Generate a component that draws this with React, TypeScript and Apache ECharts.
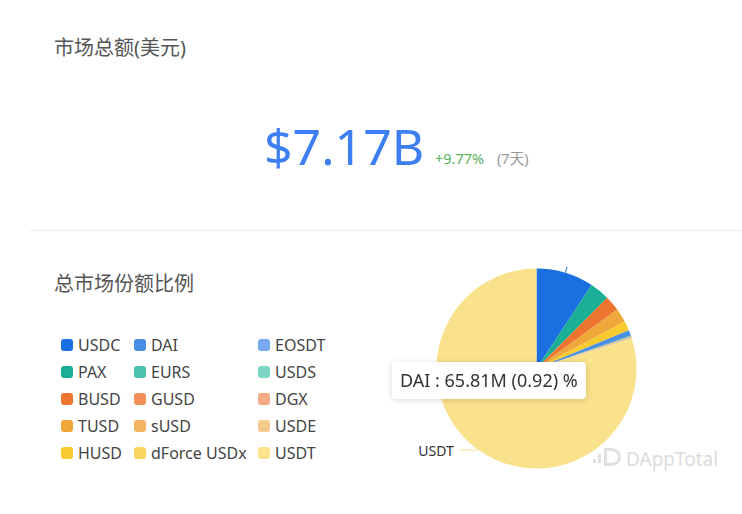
import React, { useEffect, useRef } from "react";
import * as echarts from "echarts";

const categories = ["USDC", "PAX", "BUSD", "TUSD", "HUSD", "DAI", "EURS", "GUSD", "sUSD", "dForce USDx", "EOSDT", "USDS", "DGX", "USDE", "USDT"];
const valuesM = [667, 228, 178, 160, 111, 65.81, 9, 6, 7, 2, 4, 1, 1.5, 0.5, 5729.2];
const colors = ["#1a70e0", "#1aae96", "#ee7530", "#f0a73a", "#f8ca30", "#4a8fe6", "#4cc2ad", "#f3905a", "#f3b562", "#f9d55d", "#79aaef", "#7dd3c4", "#f5ab85", "#f5c98c", "#fae18c"];
const legendColumns = [
  ["USDC", "PAX", "BUSD", "TUSD", "HUSD"],
  ["DAI", "EURS", "GUSD", "sUSD", "dForce USDx"],
  ["EOSDT", "USDS", "DGX", "USDE", "USDT"],
];
const totalText = "$7.17B";
const changeText = "+9.77%";
const periodText = "(7天)";
const title1 = "市场总额(美元)";
const title2 = "总市场份额比例";
const tipIndex = 5;

const FONT = "'Noto Sans', 'Noto Sans CJK SC', sans-serif";
const legendLefts = [56, 129, 253];

echarts.graphic.registerShape(
  "dlogo",
  (echarts.graphic as any).extendPath("M0 0 H8 A9 9 0 0 1 8 18 H0 Z M3 3 V15 H8 A6 6 0 0 0 8 3 Z", {})
);

export default function App() {
  const topRef = useRef<HTMLDivElement>(null);
  const pieRef = useRef<HTMLDivElement>(null);

  useEffect(() => {
    const top = echarts.init(topRef.current!, null, { renderer: "svg" });
    top.setOption({
      animation: false,
      graphic: [
        { type: "text", x: 54, y: 47, style: { text: title1, fill: "#555", fontSize: 20, fontFamily: FONT, textVerticalAlign: "middle" } },
        { type: "text", x: 264, y: 146, style: { text: totalText, fill: "#3d7ef1", fontSize: 50, fontFamily: FONT, textVerticalAlign: "middle" } },
        { type: "text", x: 435, y: 158, style: { text: changeText, fill: "#52b35a", fontSize: 14.5, fontFamily: FONT, textVerticalAlign: "middle" } },
        { type: "text", x: 497, y: 158, style: { text: periodText, fill: "#999", fontSize: 14.5, fontFamily: FONT, textVerticalAlign: "middle" } },
        { type: "line", shape: { x1: 30, y1: 230.5, x2: 742, y2: 230.5 }, style: { stroke: "#ececec", lineWidth: 1 } },
      ],
    });

    const pie = echarts.init(pieRef.current!, null, { renderer: "svg" });
    const data = categories.map((name, i) => {
      const item: any = { name, value: valuesM[i], itemStyle: { color: colors[i] } };
      if (name === "USDT") {
        item.label = { show: true };
        item.labelLine = { show: true, length: 1, length2: 18 };
      } else if (name === "USDC") {
        item.label = { show: true, formatter: "" };
        item.labelLine = { show: true, length: 15, length2: 15 };
      }
      return item;
    });
    pie.setOption({
      animation: false,
      tooltip: {
        trigger: "item",
        triggerOn: "none",
        alwaysShowContent: true,
        transitionDuration: 0,
        position: [392, 95],
        backgroundColor: "#fff",
        borderWidth: 0,
        padding: [5, 8],
        textStyle: { color: "#333", fontSize: 18, fontFamily: FONT },
        extraCssText: "box-shadow: 0 1px 6px rgba(0,0,0,0.15); border-radius: 4px;",
        formatter: (p: any) => `${p.name} : ${p.value}M (${p.percent}) %`,
      },
      legend: legendColumns.map((col, ci) => ({
        orient: "vertical",
        left: legendLefts[ci],
        top: 65,
        itemWidth: 12,
        itemHeight: 12,
        itemGap: 11,
        icon: "roundRect",
        selectedMode: false,
        textStyle: { color: "#444", fontSize: 16, fontFamily: FONT },
        data: col,
      })),
      graphic: [
        { type: "text", x: 54, y: 16, style: { text: title2, fill: "#555", fontSize: 20, fontFamily: FONT, textVerticalAlign: "middle" } },
        {
          type: "group",
          children: [
            { type: "rect", shape: { x: 593, y: 192, width: 3, height: 4 }, style: { fill: "#e0e0e0" } },
            { type: "rect", shape: { x: 598, y: 187, width: 3, height: 9 }, style: { fill: "#e0e0e0" } },
            { type: "dlogo", x: 604, y: 181, style: { fill: "#e0e0e0" } },
            { type: "text", x: 626, y: 192, style: { text: "DAppTotal", fill: "#dcdcdc", fontSize: 19, fontFamily: FONT, textVerticalAlign: "middle" } },
          ],
        },
      ],
      series: [
        {
          type: "pie",
          center: [536.5, 101.5],
          radius: 100,
          startAngle: 90,
          avoidLabelOverlap: false,
          label: { show: false, color: "#333", fontSize: 14, fontFamily: FONT },
          labelLine: { show: false },
          emphasis: { scale: false },
          data,
        },
      ],
    });
    pie.dispatchAction({ type: "showTip", seriesIndex: 0, dataIndex: tipIndex });

    return () => {
      top.dispose();
      pie.dispose();
    };
  }, []);

  return (
    <div>
      <div ref={topRef} style={{ position: "absolute", left: 0, top: 0, width: 742, height: 267 }} />
      <div ref={pieRef} style={{ position: "absolute", left: 0, top: 267, width: 742, height: 247 }} />
    </div>
  );
}
